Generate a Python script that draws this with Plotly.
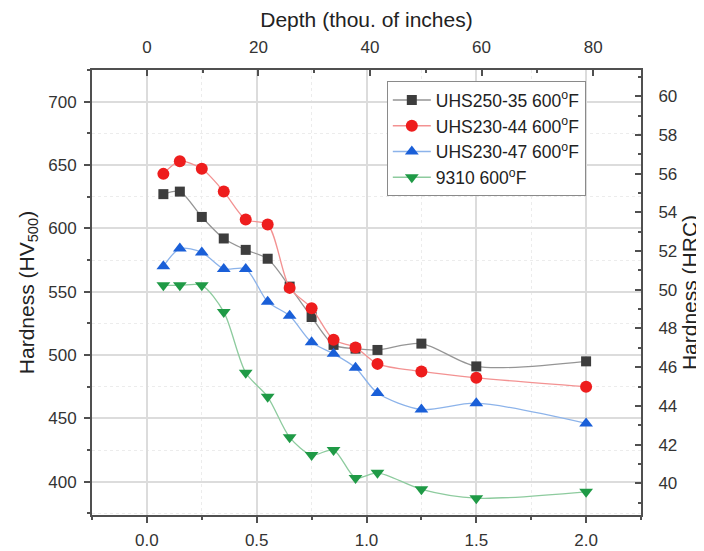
import plotly.graph_objects as go

# ---- data ----
depth_mm = [0.075, 0.15, 0.25, 0.35, 0.45, 0.55, 0.65, 0.75, 0.85, 0.95, 1.05, 1.25, 1.5, 2.0]
uhs250_35 = [627, 629, 609, 592, 583, 576, 554, 530, 508, 505, 504, 509, 491, 495]
uhs230_44 = [643, 653, 647, 629, 607, 603, 553, 537, 512, 506, 493, 487, 482, 475]
uhs230_47 = [570, 584, 581, 568, 568, 542, 531, 510, 501, 490, 470, 457, 462, 446]
steel_9310 = [555, 555, 555, 534, 486, 467, 435, 421, 425, 403, 407, 394, 387, 392]

series_names = ["UHS250-35 600<sup>o</sup>F", "UHS230-44 600<sup>o</sup>F",
                "UHS230-47 600<sup>o</sup>F", "9310 600<sup>o</sup>F"]

x_ticks_mm = [0.0, 0.5, 1.0, 1.5, 2.0]
y_ticks_hv = [400, 450, 500, 550, 600, 650, 700]
top_ticks_thou = [0, 20, 40, 60, 80]
right_ticks_hrc = [40, 42, 44, 46, 48, 50, 52, 54, 56, 58, 60]

X_RANGE_MM = [-0.25, 2.25]
Y_RANGE_HV = [373.7, 725.0]
Y_RANGE_HRC = [38.36, 61.36]
THOU_PER_MM = 39.37

FONT = "Liberation Sans, Arial, sans-serif"
AXIS_COLOR = "#505050"

styles = [
    dict(line="#959595", marker="#3d3d3d", symbol="square", size=10),
    dict(line="#f39292", marker="#ee1d1d", symbol="circle", size=12),
    dict(line="#8cb3ea", marker="#1a5fd8", symbol="triangle-up", size=12),
    dict(line="#8dcb9e", marker="#1f9a46", symbol="triangle-down", size=12),
]

fig = go.Figure()
for name, vals, st in zip(series_names, [uhs250_35, uhs230_44, uhs230_47, steel_9310], styles):
    fig.add_trace(go.Scatter(
        x=depth_mm, y=vals, name=name, mode="lines+markers",
        line=dict(color=st["line"], width=1.3, shape="spline", smoothing=0.8),
        marker=dict(color=st["marker"], symbol=st["symbol"], size=st["size"], line=dict(width=0)),
    ))

# invisible trace to bind the secondary (top / right) axes
fig.add_trace(go.Scatter(x=[None], y=[None], xaxis="x2", yaxis="y2",
                         showlegend=False, hoverinfo="skip"))

# the page body adds an 8px offset, so the figure is 8px smaller than the window
fig.update_layout(
    width=696, height=543,
    margin=dict(l=84, r=63, t=62, b=36),
    paper_bgcolor="white", plot_bgcolor="white",
    font=dict(family=FONT, size=17, color="#333333"),
    showlegend=True,
    legend=dict(x=0.537, y=0.975, xanchor="left", yanchor="top",
                bgcolor="white", bordercolor="#8a8a8a", borderwidth=1,
                font=dict(family=FONT, size=17.5, color="#222222"),
                itemwidth=38, tracegroupgap=0),
    xaxis=dict(
        range=X_RANGE_MM, tickvals=x_ticks_mm, ticktext=[f"{v:.1f}" for v in x_ticks_mm],
        showline=True, linecolor=AXIS_COLOR, linewidth=2, automargin=False,
        ticks="outside", ticklen=6, tickwidth=1.5, tickcolor=AXIS_COLOR,
        showgrid=True, gridcolor="#dcdcdc", gridwidth=1.5, zeroline=False,
        minor=dict(dtick=0.25, tick0=0, ticks="outside", ticklen=3, tickcolor=AXIS_COLOR,
                   showgrid=True, gridcolor="#ececec", gridwidth=1, griddash="dot"),
        ticklabelstandoff=3,
    ),
    xaxis2=dict(
        range=[X_RANGE_MM[0] * THOU_PER_MM, X_RANGE_MM[1] * THOU_PER_MM],
        overlaying="x", side="top", anchor="y", automargin=False,
        tickvals=top_ticks_thou,
        showline=True, linecolor=AXIS_COLOR, linewidth=2,
        ticks="inside", ticklen=6, tickwidth=1.5, tickcolor=AXIS_COLOR,
        showgrid=False, zeroline=False,
        minor=dict(dtick=10, tick0=0, ticks="inside", ticklen=3, tickcolor=AXIS_COLOR, showgrid=False),
        title=dict(text="Depth (thou. of inches)", font=dict(size=21, family=FONT, color="#222222"),
                   standoff=6),
        ticklabelstandoff=8,
    ),
    yaxis=dict(
        range=Y_RANGE_HV, tickvals=y_ticks_hv, automargin=False,
        showline=True, linecolor=AXIS_COLOR, linewidth=2,
        ticks="outside", ticklen=6, tickwidth=1.5, tickcolor=AXIS_COLOR,
        showgrid=True, gridcolor="#dcdcdc", gridwidth=1.5, zeroline=False,
        minor=dict(dtick=25, tick0=0, ticks="outside", ticklen=3, tickcolor=AXIS_COLOR,
                   showgrid=True, gridcolor="#ececec", gridwidth=1, griddash="dot"),
        title=dict(text="Hardness (HV<sub>500</sub>)", font=dict(size=21, family=FONT, color="#222222"),
                   standoff=8),
        ticklabelstandoff=4,
    ),
    yaxis2=dict(
        range=Y_RANGE_HRC, overlaying="y", side="right", anchor="x", automargin=False,
        tickvals=right_ticks_hrc,
        showline=True, linecolor=AXIS_COLOR, linewidth=2,
        ticks="inside", ticklen=6, tickwidth=1.5, tickcolor=AXIS_COLOR,
        showgrid=False, zeroline=False,
        minor=dict(dtick=1, tick0=0, ticks="inside", ticklen=3, tickcolor=AXIS_COLOR, showgrid=False),
        title=dict(text="Hardness (HRC)", font=dict(size=21, family=FONT, color="#222222"),
                   standoff=6),
        ticklabelstandoff=12,
    ),
)

fig.write_html("out.html")
